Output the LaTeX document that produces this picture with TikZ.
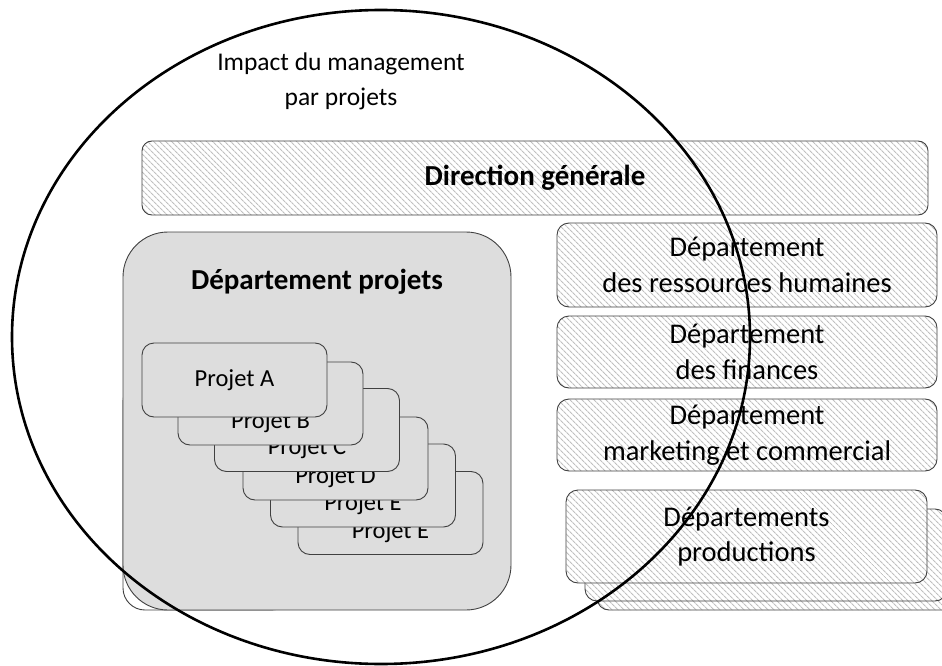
\documentclass[tikz,border=0pt]{standalone}
\usepackage{fontspec}
\setmainfont{Carlito}
\usepackage{xcolor}
\usepackage{tikz}
\usetikzlibrary{patterns.meta}

\definecolor{boxgray}{RGB}{221,221,221}
\definecolor{edgegray}{RGB}{64,64,64}
\definecolor{hatchgray}{RGB}{192,192,192}

\begin{document}
\begin{tikzpicture}[x=1pt,y=-1pt]

                % page frame, pixel units, y going down
                \useasboundingbox (0,0) rectangle (942,666);
                \clip (0,0) rectangle (942,666);

                \tikzstyle{txt}=[font=\fontsize{28.5}{35.5}\selectfont,align=center,inner sep=0pt]
                \tikzstyle{smalltxt}=[font=\fontsize{24.5}{35}\selectfont,align=center,inner sep=0pt]
                \tikzstyle{boldtxt}=[font=\fontsize{29}{35}\selectfont\bfseries,align=center,inner sep=0pt]
                \tikzstyle{hatched}=[draw=edgegray,line width=0.9pt,rounded corners=12pt,preaction={fill=white},pattern={Lines[angle=-45,distance=4pt,line width=1.1pt]},pattern color=hatchgray]
                \tikzstyle{greybox}=[draw=edgegray,line width=0.9pt,fill=boxgray]
                \tikzstyle{projet}=[greybox,rectangle,rounded corners=12pt,minimum width=185pt,minimum height=83pt,inner sep=0pt]

                % title inside the circle
                \node [font=\fontsize{25.5}{35}\selectfont,align=center,inner sep=0pt] (impact) at (341,81) {Impact du management\\par projets};

                % top of the organisation
                \node [hatched,boldtxt,rounded corners=10pt,minimum width=786pt,minimum height=74pt] (direction) at (535,178) {Direction générale};

                % the other departments, right column
                \node [hatched,txt,minimum width=380pt,minimum height=84pt] (rh) at (747,265) {Département\\des ressources humaines};
                \node [hatched,txt,minimum width=380pt,minimum height=72pt] (finances) at (747,352) {Département\\des finances};
                \node [hatched,txt,minimum width=380pt,minimum height=72pt] (marketing) at (747,435) {Département\\marketing et commercial};

                % stack of production departments
                \node [hatched,minimum width=360pt,minimum height=82pt] (prodC) at (777,569) {};
                \node [hatched,minimum width=362pt,minimum height=92pt] (prodB) at (766,555) {};
                \node [hatched,txt,minimum width=361pt,minimum height=93pt] (prodA) at (746.5,536.5) {Départements\\productions};

                % project department with its projects
                \node [greybox,fill=white,rounded corners=22pt,minimum width=170pt,minimum height=230pt] (projetsback) at (208,495) {};
                \node [greybox,rounded corners=45pt,minimum width=388pt,minimum height=378pt] (projets) at (317,421) {};
                \node [boldtxt] (projetstitle) at (317,282) {Département projets};

                \node [projet] (pF) at (390.5,513) {};
                \node [smalltxt,anchor=base] (tF) at ([yshift=16pt]pF.south) {Projet E};
                \node [projet] (pE) at (363,485.5) {};
                \node [smalltxt,anchor=base] (tE) at ([yshift=17pt]pE.south) {Projet E};
                \node [projet] (pD) at (335.5,458.5) {};
                \node [smalltxt,anchor=base] (tD) at ([yshift=17pt]pD.south) {Projet D};
                \node [projet] (pC) at (307,430) {};
                \node [smalltxt,anchor=base] (tC) at ([yshift=17pt]pC.south) {Projet C};
                \node [projet] (pB) at (270.5,403.5) {};
                \node [smalltxt,anchor=base] (tB) at ([yshift=17pt]pB.south) {Projet B};
                \node [projet,minimum height=74pt] (pA) at (234.5,380) {};
                \node [smalltxt] (tA) at (pA) {Projet A};

                % scope of project management
                \draw [line width=2.6pt] (381,337) ellipse [x radius=369pt, y radius=327pt];

\end{tikzpicture}
\end{document}
